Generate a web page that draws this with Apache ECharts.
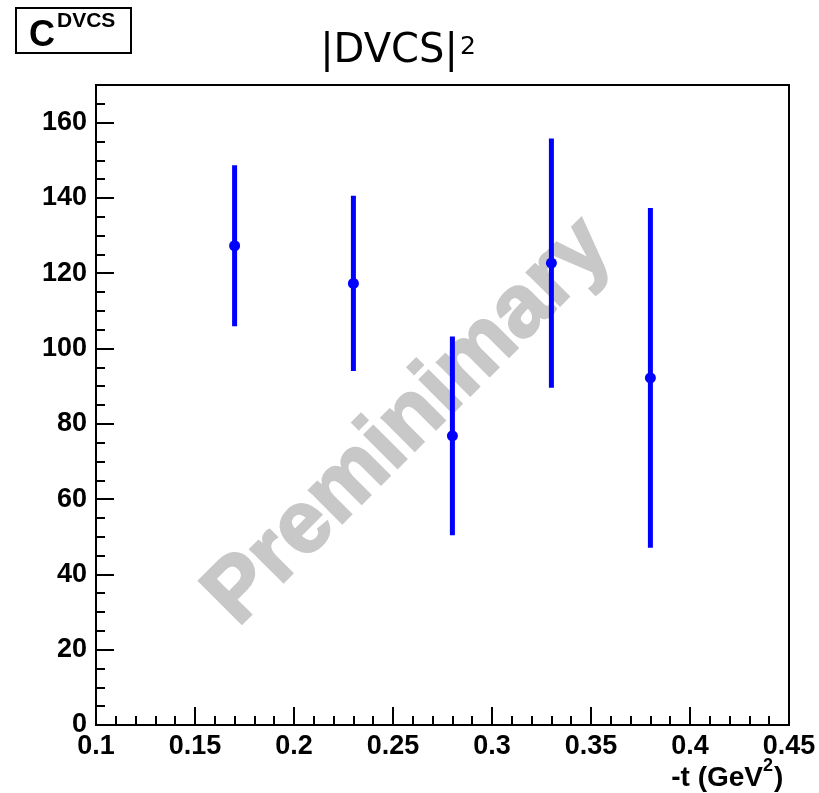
<!DOCTYPE html>
<html>
<head>
<meta charset="utf-8">
<script src="https://cdn.jsdelivr.net/npm/echarts@6/dist/echarts.min.js"></script>
<style>
html,body{margin:0;padding:0;background:#fff;}
#chart{width:819px;height:793px;}
</style>
</head>
<body>
<div id="chart"></div>
<script>
// -t values (GeV^2)
var tValues = [0.17, 0.23, 0.28, 0.33, 0.38];
// |DVCS|^2 coefficient values
var dvcsValues = [127.3, 117.3, 76.8, 122.7, 92.2];
// symmetric errors
var dvcsErrors = [21.4, 23.3, 26.4, 33.1, 45.1];
// axis tick labels
var xTickLabels = ['0.1', '0.15', '0.2', '0.25', '0.3', '0.35', '0.4', '0.45'];
var yTickLabels = ['0', '20', '40', '60', '80', '100', '120', '140', '160'];

var seriesData = tValues.map(function (t, i) {
  return [t, dvcsValues[i], dvcsValues[i] - dvcsErrors[i], dvcsValues[i] + dvcsErrors[i]];
});

var labelFont = {fontFamily: 'Liberation Sans', fontWeight: 'bold', fontSize: 27, color: '#000'};
var chart = echarts.init(document.getElementById('chart'), null, {renderer: 'canvas'});

function txt(x, y, text, font, align) {
  return {
    type: 'text', z: 11, silent: true, x: x, y: y,
    style: {text: text, font: font, fill: '#000', align: align || 'left', verticalAlign: 'middle'}
  };
}

var option = {
  backgroundColor: '#fff',
  animation: false,
  grid: {left: 96, right: 30, top: 85, bottom: 68, show: true, borderColor: '#000', borderWidth: 2, backgroundColor: 'transparent'},
  xAxis: [{
    type: 'value', min: 0.1, max: 0.45, interval: 0.05,
    axisLine: {show: true, onZero: false, lineStyle: {color: '#000', width: 2}},
    axisTick: {show: true, inside: true, length: 18, lineStyle: {color: '#000', width: 2}},
    minorTick: {show: true, splitNumber: 5, length: 9, lineStyle: {color: '#000', width: 2}},
    splitLine: {show: false},
    axisLabel: Object.assign({margin: 8, formatter: function (v) {
      var idx = Math.round((v - 0.1) / 0.05);
      return xTickLabels[idx] !== undefined ? xTickLabels[idx] : '';
    }}, labelFont)
  }],
  yAxis: [{
    type: 'value', min: 0, max: 170, interval: 20,
    axisLine: {show: true, onZero: false, lineStyle: {color: '#000', width: 2}},
    axisTick: {show: true, inside: true, length: 18, lineStyle: {color: '#000', width: 2}},
    splitLine: {show: false},
    axisLabel: Object.assign({margin: 9, showMaxLabel: false, formatter: function (v) {
      var idx = Math.round(v / 20);
      return (Math.abs(v - idx * 20) < 1e-6 && yTickLabels[idx] !== undefined) ? yTickLabels[idx] : '';
    }}, labelFont)
  }, {
    type: 'value', min: 0, max: 170, interval: 5, position: 'left', offset: 0,
    axisLine: {show: false},
    axisTick: {show: true, inside: true, length: 9, lineStyle: {color: '#000', width: 2}},
    splitLine: {show: false},
    axisLabel: {show: false}
  }],
  graphic: [
    {
      type: 'text', z: 1, silent: true,
      x: 409, y: 422, rotation: 45 * Math.PI / 180,
      style: {text: 'Preminimary', fill: '#c8c8c8', stroke: '#c8c8c8', lineWidth: 2.5, font: 'bold 88px "Liberation Sans"', align: 'center', verticalAlign: 'middle'}
    },
    {
      type: 'rect', z: 10,
      shape: {x: 16, y: 8, width: 115, height: 45},
      style: {fill: '#fff', stroke: '#000', lineWidth: 2}
    },
    txt(29, 36, 'C', 'bold 36px "Liberation Sans"'),
    txt(57, 21.5, 'DVCS', 'bold 21px "Liberation Sans"'),
    txt(389, 52, '\u007cDVCS\u007c', '40px "DejaVu Sans"', 'center'),
    txt(460, 47, '2', '25px "DejaVu Sans"'),
    txt(763, 778, '-t (GeV', 'bold 28px "Liberation Sans"', 'right'),
    txt(763, 766, '2', 'bold 18px "Liberation Sans"'),
    txt(774, 778, ')', 'bold 28px "Liberation Sans"')
  ],
  series: [{
    type: 'custom',
    xAxisIndex: 0, yAxisIndex: 0,
    z: 5,
    data: seriesData,
    clip: false,
    renderItem: function (params, api) {
      var x = api.value(0);
      var c = api.coord([x, api.value(1)]);
      var lo = api.coord([x, api.value(2)]);
      var hi = api.coord([x, api.value(3)]);
      return {
        type: 'group',
        children: [
          {type: 'line', shape: {x1: lo[0], y1: lo[1], x2: hi[0], y2: hi[1]}, style: {stroke: '#0000ff', lineWidth: 5, lineCap: 'butt'}},
          {type: 'circle', shape: {cx: c[0], cy: c[1], r: 5.5}, style: {fill: '#0000ff'}}
        ]
      };
    }
  }]
};
chart.setOption(option);
</script>
</body>
</html>
